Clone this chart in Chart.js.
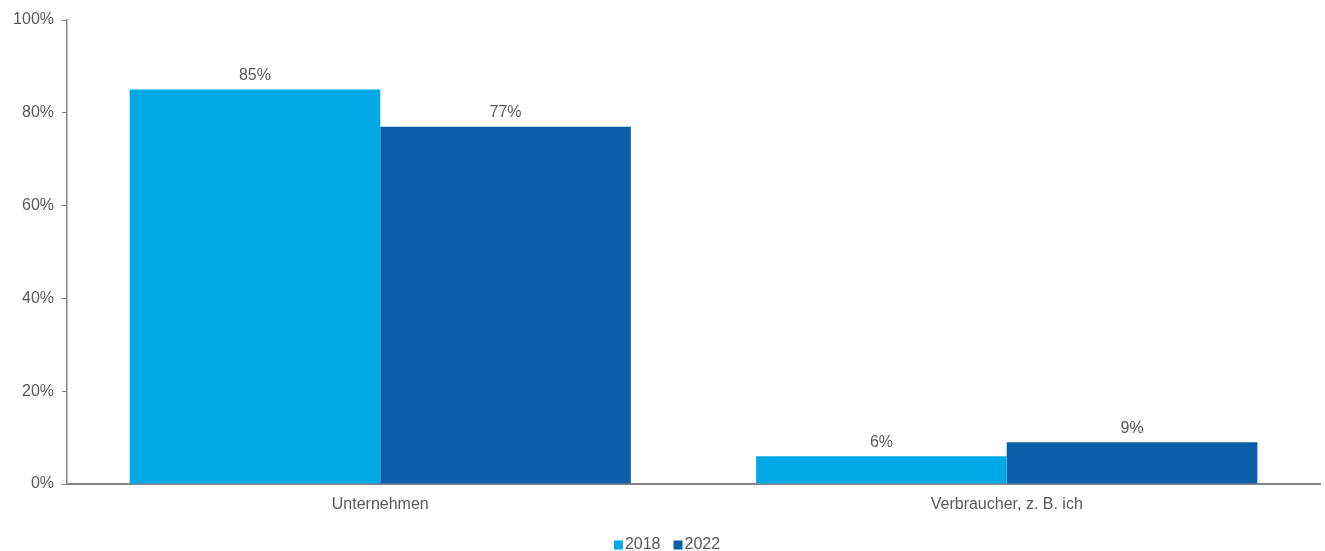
<!DOCTYPE html>
<html>
<head>
<meta charset="utf-8">
<script src="https://cdn.jsdelivr.net/npm/chart.js@4/dist/chart.umd.min.js"></script>
<style>
  html, body { margin: 0; padding: 0; background: #ffffff; }
  #wrap { width: 1325px; height: 551px; }
</style>
</head>
<body>
<div id="wrap"><canvas id="c" width="1325" height="551"></canvas></div>
<script>
const categories = ['Unternehmen', 'Verbraucher, z. B. ich'];
const seriesNames = ['2018', '2022'];
const values2018 = [85, 6];
const values2022 = [77, 9];
const yTicks = [0, 20, 40, 60, 80, 100];

const TEXT = '#595959';
const AXIS = '#868686';
const FONT = "'Liberation Sans', Arial, sans-serif";

// Percentage labels centred above each bar
const valueLabels = {
  id: 'valueLabels',
  afterDatasetsDraw(chart) {
    const ctx = chart.ctx;
    ctx.save();
    ctx.font = '16px ' + FONT;
    ctx.fillStyle = TEXT;
    ctx.textAlign = 'center';
    ctx.textBaseline = 'bottom';
    chart.data.datasets.forEach((ds, i) => {
      chart.getDatasetMeta(i).data.forEach((bar, j) => {
        ctx.fillText(ds.data[j] + '%', bar.x, bar.y - 6);
      });
    });
    ctx.restore();
  }
};

// Compact legend row: small square swatch followed closely by the series name
const compactLegend = {
  id: 'compactLegend',
  afterDraw(chart) {
    const ctx = chart.ctx;
    const box = 9, gap = 2, itemGap = 13;
    ctx.save();
    ctx.font = '16px ' + FONT;
    ctx.textBaseline = 'middle';
    ctx.textAlign = 'left';
    const items = chart.data.datasets.map(ds => ({
      text: ds.label, color: ds.backgroundColor, w: ctx.measureText(ds.label).width
    }));
    const total = items.reduce((s, it) => s + box + gap + it.w, 0) + itemGap * (items.length - 1);
    let x = 667 - total / 2;
    const cy = 545;
    items.forEach(it => {
      ctx.fillStyle = it.color;
      ctx.fillRect(x, cy - box / 2, box, box);
      x += box + gap;
      ctx.fillStyle = TEXT;
      ctx.fillText(it.text, x, cy);
      x += it.w + itemGap;
    });
    ctx.restore();
  }
};

new Chart(document.getElementById('c'), {
  type: 'bar',
  data: {
    labels: categories,
    datasets: [
      { label: seriesNames[0], data: values2018, backgroundColor: '#00A8E6' },
      { label: seriesNames[1], data: values2022, backgroundColor: '#0B5EA7' }
    ]
  },
  options: {
    responsive: false,
    animation: false,
    devicePixelRatio: 1,
    layout: { padding: { top: 20, right: 5, left: 0, bottom: 0 } },
    datasets: { bar: { categoryPercentage: 0.8, barPercentage: 1.0 } },
    scales: {
      x: {
        afterFit(scale) { scale.height = 67; },
        grid: { drawOnChartArea: false, drawTicks: false },
        border: { display: true, color: AXIS, width: 2 },
        ticks: { color: TEXT, font: { size: 16, family: FONT }, padding: 11 }
      },
      y: {
        min: 0, max: 100,
        afterBuildTicks(scale) { scale.ticks = yTicks.map(v => ({ value: v })); },
        afterFit(scale) { scale.width = 67; },
        grid: { drawOnChartArea: false, drawTicks: true, tickLength: 5, color: AXIS },
        border: { display: true, color: AXIS, width: 1.5 },
        ticks: { color: TEXT, font: { size: 16, family: FONT }, padding: 8, callback: v => v + '%' }
      }
    },
    plugins: {
      legend: { display: false },
      tooltip: { enabled: false }
    }
  },
  plugins: [valueLabels, compactLegend]
});
</script>
</body>
</html>
